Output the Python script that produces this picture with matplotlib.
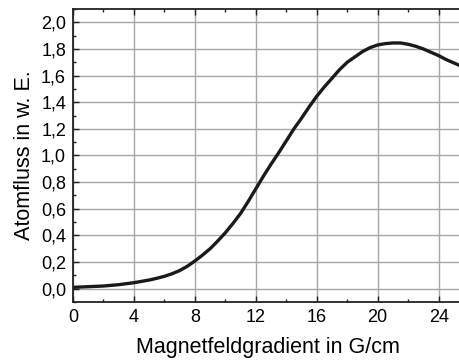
import numpy as np
import matplotlib
matplotlib.use("Agg")
import matplotlib.pyplot as plt
from matplotlib.ticker import MultipleLocator, FuncFormatter

plt.rcParams['font.family'] = ['Liberation Sans', 'DejaVu Sans']

# Atomfluss vs. Magnetfeldgradient
gradient = [0, 1, 2, 3, 4, 5, 5.5, 6, 6.5, 7, 7.5, 8, 8.5, 9, 9.5, 10,
            10.5, 11, 11.5, 12, 12.5, 13, 13.5, 14, 14.5, 15, 15.5, 16,
            16.5, 17, 17.5, 18, 18.5, 19, 19.5, 20, 20.5, 21, 21.5, 22,
            22.5, 23, 23.5, 24, 24.5, 25, 25.4]
flux = [0.01, 0.015, 0.02, 0.03, 0.045, 0.065, 0.078, 0.093, 0.112, 0.136,
        0.168, 0.208, 0.252, 0.30, 0.358, 0.42, 0.49, 0.565, 0.655, 0.75,
        0.845, 0.935, 1.02, 1.11, 1.20, 1.28, 1.365, 1.445, 1.515, 1.58,
        1.645, 1.70, 1.74, 1.78, 1.81, 1.83, 1.84, 1.845, 1.845, 1.835,
        1.82, 1.80, 1.775, 1.75, 1.72, 1.695, 1.675]

fig = plt.figure(figsize=(4.6, 3.63), dpi=100)
# right spine sits just outside the picture, like in the original crop
ax = fig.add_axes([73/460, 61/363, 390/460, 293/363])

ax.plot(gradient, flux, color='#1a1a1a', lw=2.4,
        solid_capstyle='round', solid_joinstyle='round')

ax.set_xlim(0, 25.6)
ax.set_ylim(-0.1, 2.1)
ax.xaxis.set_major_locator(MultipleLocator(4))
ax.xaxis.set_minor_locator(MultipleLocator(2))
ax.yaxis.set_major_locator(MultipleLocator(0.2))
ax.yaxis.set_minor_locator(MultipleLocator(0.1))
ax.yaxis.set_major_formatter(FuncFormatter(lambda v, p: f"{v:.1f}".replace('.', ',')))

ax.grid(True, which='major', color='#a8a8a8', lw=1.0)
ax.set_axisbelow(True)
ax.tick_params(which='both', direction='in', top=True, right=False,
               labelsize=13, width=1.0, color='#222222', pad=5)
ax.tick_params(which='major', length=4.5)
ax.tick_params(which='minor', length=2.5)
for s in ax.spines.values():
    s.set_linewidth(1.3)
    s.set_color('#222222')

ax.set_xlabel("Magnetfeldgradient in G/cm", fontsize=15.5, labelpad=8)
ax.set_ylabel("Atomfluss in w. E.", fontsize=15.5, labelpad=4)

fig.savefig("out.png", dpi=100)
